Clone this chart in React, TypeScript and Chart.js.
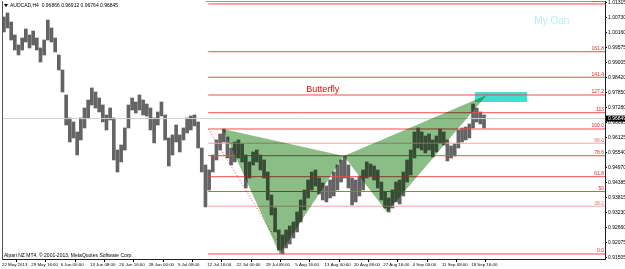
import React, { useEffect, useRef } from 'react';
import { Chart, registerables } from 'chart.js';

Chart.register(...registerables);

// ---------------- data ----------------
const chartTitle = 'AUDCAD,H4  0.96866 0.96912 0.96764 0.96845';
const copyrightText = 'Alpari NZ MT4, \u00A9 2001-2013, MetaQuotes Software Corp.';

const timeLabels = [
  '22 May 2013', '29 May 16:00', '6 Jun 00:00', '13 Jun 08:00', '20 Jun 16:00',
  '28 Jun 00:00', '5 Jul 08:00', '12 Jul 16:00', '22 Jul 00:00', '29 Jul 08:00',
  '5 Aug 16:00', '13 Aug 00:00', '20 Aug 08:00', '27 Aug 16:00', '4 Sep 00:00',
  '11 Sep 08:00', '18 Sep 16:00',
];
const timeLabelBars = [0, 32, 64, 96, 128, 160, 192, 224, 256, 288, 320, 352, 384, 416, 448, 480, 512];

const priceTicks = [
  1.01315, 1.0073, 1.0016, 0.99575, 0.99005, 0.9842, 0.9785, 0.9728, 0.96695,
  0.96125, 0.9554, 0.9497, 0.94385, 0.93815, 0.9323, 0.9266, 0.92075, 0.91505,
];

// each entry = one group of 4 H4 bars (high / low)
const barsPerGroup = 4;
const groupHigh = [
  1.00758, 1.00912, 1.00566, 1.00066, 0.99681, 0.9995, 1.00296, 1.00066, 1.00219, 0.9995,
  0.99565, 0.99873, 1.00643, 1.00335, 0.9995, 0.99296, 0.98719, 0.97757, 0.96873, 0.96719,
  0.96334, 0.96873, 0.97257, 0.97565, 0.98027, 0.97873, 0.97642, 0.97373, 0.96988, 0.97257,
  0.96873, 0.95641, 0.95834, 0.96488, 0.97373, 0.97642, 0.97488, 0.97757, 0.97565, 0.97411,
  0.97257, 0.96873, 0.97103, 0.97488, 0.96988, 0.96103, 0.96219, 0.96603, 0.96219, 0.96488,
  0.96873, 0.96949, 0.96988, 0.96719, 0.95718, 0.95064, 0.94872, 0.95449, 0.96026, 0.96257,
  0.96449, 0.96142, 0.95718, 0.95949, 0.96026, 0.95872, 0.95449, 0.9518, 0.95565, 0.95641,
  0.95449, 0.95257, 0.94795, 0.9391, 0.9341, 0.92564, 0.92372, 0.92564, 0.92718, 0.92872,
  0.93256, 0.93718, 0.94103, 0.94487, 0.94795, 0.94872, 0.94564, 0.94372, 0.94257, 0.94487,
  0.94795, 0.95064, 0.95257, 0.95411, 0.95064, 0.94564, 0.94487, 0.94641, 0.94872, 0.9518,
  0.95103, 0.95026, 0.94872, 0.9441, 0.94026, 0.93795, 0.94103, 0.9441, 0.94487, 0.94795,
  0.95257, 0.95641, 0.96334, 0.96488, 0.96334, 0.9618, 0.96257, 0.96026, 0.9618, 0.96449,
  0.96334, 0.96026, 0.95795, 0.95872, 0.96411, 0.96488, 0.96526, 0.96642, 0.97411, 0.97257,
  0.97103, 0.96988,
];
const groupLow = [
  1.00181, 1.00335, 0.99873, 0.99488, 0.99296, 0.99488, 0.99796, 0.99565, 0.99681, 0.99488,
  0.99027, 0.99296, 0.99873, 0.99796, 0.99412, 0.98719, 0.97873, 0.96603, 0.95949, 0.96103,
  0.95449, 0.96026, 0.96488, 0.96873, 0.97373, 0.97257, 0.97103, 0.96719, 0.96411, 0.96796,
  0.95257, 0.94795, 0.9518, 0.95641, 0.96488, 0.9718, 0.97065, 0.9718, 0.96988, 0.96949,
  0.96411, 0.95911, 0.96603, 0.96949, 0.96026, 0.95026, 0.95449, 0.95949, 0.95565, 0.96026,
  0.96295, 0.96411, 0.96565, 0.95718, 0.94795, 0.93449, 0.94103, 0.94795, 0.95257, 0.95641,
  0.95949, 0.95334, 0.95064, 0.9518, 0.95334, 0.9518, 0.9418, 0.94564, 0.95064, 0.9518,
  0.94872, 0.94564, 0.93718, 0.93141, 0.92487, 0.91794, 0.91641, 0.91871, 0.92025, 0.92256,
  0.92487, 0.92872, 0.93333, 0.93795, 0.94103, 0.94257, 0.93949, 0.93718, 0.93641, 0.93795,
  0.93872, 0.94103, 0.9441, 0.94564, 0.9418, 0.93526, 0.93641, 0.93872, 0.94103, 0.94564,
  0.94641, 0.94487, 0.9418, 0.93718, 0.9341, 0.93256, 0.9341, 0.93641, 0.93564, 0.93872,
  0.9441, 0.9468, 0.95334, 0.95718, 0.95641, 0.95526, 0.95641, 0.95372, 0.95565, 0.95911,
  0.95834, 0.95218, 0.95334, 0.95411, 0.95718, 0.95949, 0.96026, 0.96103, 0.96488, 0.96719,
  0.96642, 0.96488,
];

const bidPrice = 0.96849;

// Fibonacci retracement (X -> A)
const fibLabels = ['0.0', '38.2', '50', '61.8', '78.6', '88.6', '100.0', '113', '127.2', '141.4', '161.8', '200.0'];
const fibPrices = [0.91641, 0.93478, 0.94045, 0.94613, 0.95421, 0.95902, 0.96449, 0.97074, 0.97757, 0.9844, 0.99422, 1.01259];
const fibStartBar = 225;
const fibTrendBars = [225, 309];
const fibTrendPrices = [0.96449, 0.91641];

// Butterfly X-A-B-C-D
const patternBars = [241, 303, 373, 420, 529];
const patternPrices = [0.96449, 0.91641, 0.95411, 0.93256, 0.97757];

// PRZ rectangle
const przBars = [516, 573];
const przPrices = [0.97872, 0.97488];

// top grey line
const topLineBars = [222, 658];
const topLinePrice = 1.0136;

// text objects
const butterflyText = 'Butterfly';
const butterflyAnchor = [350, 0.9795];
const ownText = 'My Oan';
const ownAnchor = [600, 1.00604];

// ---------------- styles ----------------
const FONT = "'Liberation Sans', Arial, sans-serif";
const X_MAX = 658;
const Y_MIN = 0.91447;
const Y_MAX = 1.01373;
const lightFib = new Set(['88.6', '38.2']);

const overlayPlugin = {
  id: 'overlayPlugin',
  beforeDatasetsDraw(chart: any) {
    const { ctx, scales, chartArea } = chart;
    const x = scales.x, y = scales.y;
    ctx.save();
    ctx.beginPath();
    ctx.rect(chartArea.left, chartArea.top, chartArea.right - chartArea.left, chartArea.bottom - chartArea.top);
    ctx.clip();
    const x0 = x.getPixelForValue(przBars[0]);
    const x1 = x.getPixelForValue(przBars[1]);
    const y0 = y.getPixelForValue(przPrices[0]);
    const y1 = y.getPixelForValue(przPrices[1]);
    ctx.fillStyle = '#40e0d0';
    ctx.fillRect(x0, y0, x1 - x0, y1 - y0);
    ctx.restore();
  },
  afterDatasetsDraw(chart: any) {
    const { ctx, scales, chartArea } = chart;
    const x = scales.x, y = scales.y;
    ctx.save();
    ctx.beginPath();
    ctx.rect(chartArea.left, chartArea.top, chartArea.right - chartArea.left, chartArea.bottom - chartArea.top);
    ctx.clip();
    ctx.globalCompositeOperation = 'multiply';
    ctx.fillStyle = 'rgb(139,190,134)';
    const tris = [[0, 1, 2], [2, 3, 4]];
    for (const t of tris) {
      ctx.beginPath();
      t.forEach((k, i) => {
        const px = x.getPixelForValue(patternBars[k]);
        const py = y.getPixelForValue(patternPrices[k]);
        if (i === 0) ctx.moveTo(px, py); else ctx.lineTo(px, py);
      });
      ctx.closePath();
      ctx.fill();
    }
    ctx.globalCompositeOperation = 'source-over';

    // fib labels
    ctx.font = `5px ${FONT}`;
    ctx.textAlign = 'right';
    ctx.textBaseline = 'bottom';
    fibLabels.forEach((lab, i) => {
      ctx.fillStyle = lightFib.has(lab) ? '#f07070' : '#ee2222';
      ctx.fillText(lab, chartArea.right - 1, y.getPixelForValue(fibPrices[i]) - 0.5);
    });

    // text objects
    ctx.textAlign = 'center';
    ctx.textBaseline = 'middle';
    ctx.font = `9px ${FONT}`;
    ctx.fillStyle = '#ff0000';
    ctx.fillText(butterflyText, x.getPixelForValue(butterflyAnchor[0]), y.getPixelForValue(butterflyAnchor[1]));
    ctx.font = `10px ${FONT}`;
    ctx.fillStyle = '#b4eef6';
    ctx.fillText(ownText, x.getPixelForValue(ownAnchor[0]), y.getPixelForValue(ownAnchor[1]));
    ctx.restore();
  },
  afterDraw(chart: any) {
    const { ctx, scales, chartArea } = chart;
    const y = scales.y;
    ctx.save();
    // left border
    ctx.strokeStyle = '#555';
    ctx.lineWidth = 1;
    ctx.beginPath();
    ctx.moveTo(chartArea.left + 0.5, chartArea.top);
    ctx.lineTo(chartArea.left + 0.5, chartArea.bottom);
    ctx.stroke();
    // title
    ctx.fillStyle = '#000';
    ctx.beginPath();
    ctx.moveTo(4, 4);
    ctx.lineTo(8, 4);
    ctx.lineTo(6, 7);
    ctx.closePath();
    ctx.fill();
    ctx.font = `5px ${FONT}`;
    ctx.textAlign = 'left';
    ctx.textBaseline = 'middle';
    ctx.fillText(chartTitle, 10, 5.5);
    // copyright
    ctx.textBaseline = 'bottom';
    ctx.fillText(copyrightText, 4, chartArea.bottom - 0.5);
    // bid box
    const by = y.getPixelForValue(bidPrice);
    ctx.fillStyle = '#000';
    ctx.fillRect(chartArea.right + 1, by - 3, 20, 6);
    ctx.fillStyle = '#fff';
    ctx.textBaseline = 'middle';
    ctx.fillText(bidPrice.toFixed(5), chartArea.right + 3, by + 0.5);
    ctx.restore();
  },
};

export default function App() {
  const ref = useRef<HTMLCanvasElement | null>(null);

  useEffect(() => {
    if (!ref.current) return;
    const barData = groupHigh.map((h, j) => ({ x: barsPerGroup * j + barsPerGroup / 2, y: [groupLow[j], h] }));
    const lineDs = (data: any[], color: string, extra: any = {}) => ({
      type: 'line',
      data,
      borderColor: color,
      borderWidth: 1,
      pointRadius: 0,
      fill: false,
      tension: 0,
      ...extra,
    });
    const fibDatasets = fibPrices.map((p, i) =>
      lineDs([{ x: fibStartBar, y: p }, { x: X_MAX, y: p }], lightFib.has(fibLabels[i]) ? '#f7a3a3' : '#f24a4a')
    );
    const chart = new Chart(ref.current, {
      type: 'bar',
      data: {
        datasets: [
          lineDs([{ x: 0, y: bidPrice }, { x: X_MAX, y: bidPrice }], '#cfcfcf'),
          lineDs([{ x: topLineBars[0], y: topLinePrice }, { x: topLineBars[1], y: topLinePrice }], '#8a8a8a'),
          ...fibDatasets,
          lineDs(
            [{ x: fibTrendBars[0], y: fibTrendPrices[0] }, { x: fibTrendBars[1], y: fibTrendPrices[1] }],
            '#f04040',
            { borderDash: [1, 2] }
          ),
          {
            type: 'bar',
            data: barData,
            backgroundColor: '#646464',
            borderWidth: 0,
            barThickness: 3,
            grouped: false,
          } as any,
        ] as any,
      },
      options: {
        animation: false,
        responsive: false,
        devicePixelRatio: 1,
        layout: { padding: { left: 2, top: 1, right: 0, bottom: 0 } },
        plugins: { legend: { display: false }, tooltip: { enabled: false } },
        scales: {
          x: {
            type: 'linear',
            min: 0,
            max: X_MAX,
            offset: false,
            afterBuildTicks: (s: any) => {
              s.ticks = timeLabelBars.map((v) => ({ value: v }));
            },
            afterFit: (s: any) => {
              s.height = 10;
              s.paddingLeft = 0;
              s.paddingRight = 0;
            },
            ticks: {
              callback: (_v: any, i: number) => timeLabels[i],
              align: 'start',
              maxRotation: 0,
              minRotation: 0,
              autoSkip: false,
              padding: 0,
              color: '#000',
              font: { family: FONT, size: 4.4 },
            },
            grid: { drawOnChartArea: false, tickLength: 3, color: '#000' },
            border: { display: true, color: '#222' },
          },
          y: {
            type: 'linear',
            position: 'right',
            min: Y_MIN,
            max: Y_MAX,
            afterBuildTicks: (s: any) => {
              s.ticks = priceTicks.map((v) => ({ value: v }));
            },
            afterFit: (s: any) => {
              s.width = 20;
              s.paddingTop = 0;
              s.paddingBottom = 0;
            },
            ticks: {
              callback: (v: any) => Number(v).toFixed(5),
              autoSkip: false,
              padding: 1,
              color: '#000',
              font: { family: FONT, size: 5 },
            },
            grid: { drawOnChartArea: false, tickLength: 2, color: '#000' },
            border: { display: true, color: '#222' },
          },
        },
      } as any,
      plugins: [overlayPlugin],
    });
    return () => chart.destroy();
  }, []);

  return (
    <div style={{ position: 'absolute', left: 0, top: 0, width: 625, height: 269, background: '#fff' }}>
      <canvas ref={ref} width={625} height={269} style={{ display: 'block', width: 625, height: 269 }} />
    </div>
  );
}
